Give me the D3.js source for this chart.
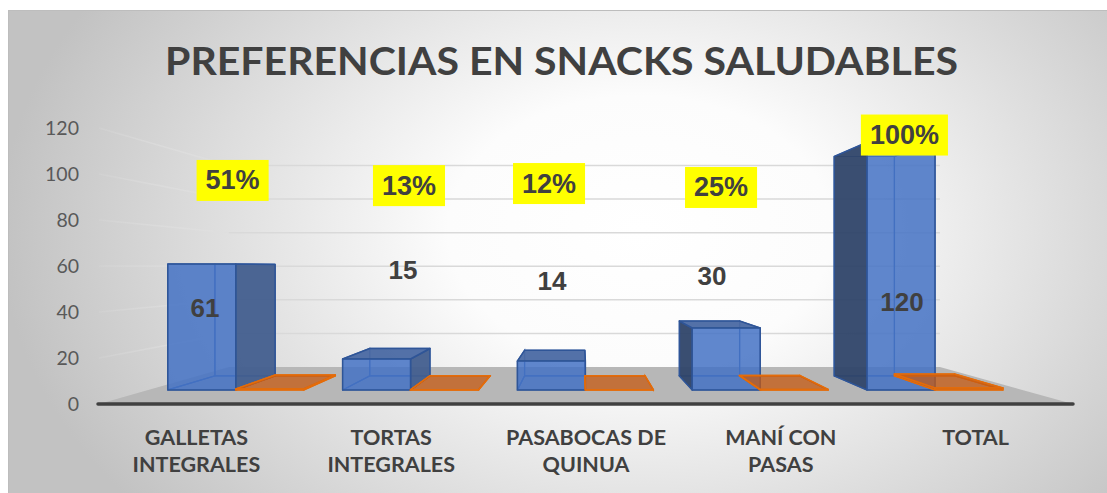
<!DOCTYPE html>
<html>
<head>
<meta charset="utf-8">
<script src="https://cdn.jsdelivr.net/npm/d3@7"></script>
<style>
  body { margin: 0; background: #fff; }
  svg { display: block; }
</style>
</head>
<body>
<div class="chart"></div>
<script>
const width = 1107;
const height = 493;

// data
const categories = ["GALLETAS INTEGRALES", "TORTAS INTEGRALES", "PASABOCAS DE QUINUA", "MANÍ CON PASAS", "TOTAL"];
const categoryLines = [["GALLETAS", "INTEGRALES"], ["TORTAS", "INTEGRALES"], ["PASABOCAS DE", "QUINUA"], ["MANÍ CON", "PASAS"], ["TOTAL"]];
const counts = [61, 15, 14, 30, 120];
const shares = [0.51, 0.13, 0.12, 0.25, 1.00];
const yTicks = [0, 20, 40, 60, 80, 100, 120];
const title = "PREFERENCIAS EN SNACKS SALUDABLES";

// perspective : vanishing point and how much the back shrinks
const VX = 580, VY = 267, K = 0.27;
const T0 = 0.38, T1 = 0.76; // depth of the bar row (0 = front, 1 = back wall)

let svg = d3.select(".chart").append("svg")
	.attr("width", width)
	.attr("height", height);

let x = d3.scaleBand()
	.domain(categories)
	.range([99, 1073]);
let xs = d3.scaleBand()
	.domain(["n", "pct"])
	.range([0, x.bandwidth()])
	.paddingOuter(0.286);
let y = d3.scaleLinear()
	.domain([0, 120])
	.range([404, 128]);

// project a point of the front plane (x0, value) pushed back by depth t
function P(x0, v, t) {
	let s = 1 - K * t;
	return [VX + (x0 - VX) * s, VY + (y(v) - VY) * s];
}
let line = d3.line();
function poly(pts) { return line(pts) + "Z"; }

let x_left = x.range()[0], x_right = x.range()[1];

// background
let defs = svg.append("defs");
let bg = defs.append("radialGradient")
	.attr("id", "bg")
	.attr("gradientUnits", "userSpaceOnUse")
	.attr("cx", 640).attr("cy", 230).attr("r", 640)
	.attr("gradientTransform", "translate(640,230) scale(1,0.7) translate(-640,-230)");
bg.append("stop").attr("offset", 0).attr("stop-color", "#ffffff");
bg.append("stop").attr("offset", 0.3).attr("stop-color", "#fcfcfc");
bg.append("stop").attr("offset", 1).attr("stop-color", "#c2c2c2");

// side wall gridlines fade out toward the front
let side = defs.append("linearGradient")
	.attr("id", "side")
	.attr("gradientUnits", "userSpaceOnUse")
	.attr("x1", P(x_left, 0, 0)[0]).attr("x2", P(x_left, 0, 1)[0])
	.attr("y1", 0).attr("y2", 0);
side.append("stop").attr("offset", 0).attr("stop-color", "#e2e2e2").attr("stop-opacity", 0.15);
side.append("stop").attr("offset", 1).attr("stop-color", "#dedede").attr("stop-opacity", 0.9);

svg.append("rect")
	.attr("x", 8.5).attr("y", 10.5)
	.attr("width", 1120).attr("height", 500)
	.attr("fill", "url(#bg)")
	.attr("stroke", "#bdbdbd");

// title
svg.append("text")
	.attr("x", 561.5).attr("y", 75)
	.attr("text-anchor", "middle")
	.attr("font-family", "Lato, 'Open Sans', sans-serif")
	.attr("font-weight", "bold")
	.attr("font-size", 39)
	.attr("textLength", 793)
	.attr("lengthAdjust", "spacingAndGlyphs")
	.attr("fill", "#404040")
	.text(title);

// floor
svg.append("path")
	.attr("d", poly([P(x_left, 0, 0), P(x_right, 0, 0), P(x_right, 0, 1), P(x_left, 0, 1)]))
	.attr("fill", "#b7b7b7");

// gridlines : side wall and back wall
svg.append("g").selectAll("path")
	.data(yTicks.filter(d => d > 0))
	.enter().append("path")
	.attr("d", d => line([P(x_left, d, 0), P(x_left, d, 1)]))
	.attr("stroke", "url(#side)")
	.attr("stroke-width", 1.5)
	.attr("fill", "none");
svg.append("g").selectAll("path")
	.data(yTicks.filter(d => d > 0))
	.enter().append("path")
	.attr("d", d => line([P(x_left, d, 1), P(x_right, d, 1)]))
	.attr("stroke", "#d9d9d9")
	.attr("stroke-width", 1.5)
	.attr("fill", "none");

// y axis labels
let yAxis = d3.axisLeft(y).tickValues(yTicks).tickSize(0).tickPadding(20);
let gy = svg.append("g")
	.attr("transform", "translate(" + x_left + ",0)")
	.call(yAxis);
gy.select(".domain").remove();
gy.selectAll("text")
	.attr("font-family", "Lato, 'Open Sans', sans-serif")
	.attr("font-size", 19.5)
	.attr("fill", "#595959");

// 3d boxes
const blue = { front: "#4472c4", frontOp: 0.85, left: "#2f4469", right: "#425e8e", top: "#4a69a3",
	stroke: "#2f5597", inner: "#3a63ae", op: 0.95 };
const orange = { front: "#c55a11", frontOp: 0.75, left: "#c55a11", right: "#c55a11", top: "#c55a11",
	stroke: "#e46c0a", inner: "#e46c0a", op: 0.75 };

function box(g, a, b, v, pal) {
	let f = {
		back: [P(a, 0, T1), P(b, 0, T1), P(b, v, T1), P(a, v, T1)],
		bottom: [P(a, 0, T0), P(b, 0, T0), P(b, 0, T1), P(a, 0, T1)],
		left: [P(a, 0, T0), P(a, 0, T1), P(a, v, T1), P(a, v, T0)],
		right: [P(b, 0, T0), P(b, 0, T1), P(b, v, T1), P(b, v, T0)],
		top: [P(a, v, T0), P(b, v, T0), P(b, v, T1), P(a, v, T1)],
		front: [P(a, 0, T0), P(b, 0, T0), P(b, v, T0), P(a, v, T0)]
	};
	let leftShows = a > VX, rightShows = b < VX, topShows = y(v) > VY;
	let hidden = ["back", "bottom"];
	if (!leftShows) hidden.push("left");
	if (!rightShows) hidden.push("right");
	if (!topShows) hidden.push("top");
	hidden.forEach(k => {
		g.append("path").attr("d", poly(f[k]))
			.attr("fill", "none")
			.attr("stroke", pal.inner)
			.attr("stroke-width", 1.2);
	});
	let shown = [];
	if (leftShows) shown.push(["left", pal.left]);
	if (rightShows) shown.push(["right", pal.right]);
	if (topShows) shown.push(["top", pal.top]);
	shown.forEach(k => {
		g.append("path").attr("d", poly(f[k[0]]))
			.attr("fill", k[1])
			.attr("fill-opacity", pal.op)
			.attr("stroke", pal.stroke)
			.attr("stroke-width", 1.5)
			.attr("stroke-linejoin", "round");
	});
	g.append("path").attr("d", poly(f.front))
		.attr("fill", pal.front)
		.attr("fill-opacity", pal.frontOp)
		.attr("stroke", pal.stroke)
		.attr("stroke-width", 1.5)
		.attr("stroke-linejoin", "round");
}

let bars = svg.append("g");
categories.forEach(function(c, i) {
	let a = x(c) + xs("n");
	box(bars.append("g"), a, a + xs.bandwidth(), counts[i], blue);
	let a2 = x(c) + xs("pct");
	box(bars.append("g"), a2, a2 + xs.bandwidth(), shares[i], orange);
});

// category axis
svg.append("path")
	.attr("d", line([P(x_left - 1, 0, 0), P(x_right, 0, 0)]))
	.attr("stroke", "#404040")
	.attr("stroke-width", 3.5)
	.attr("stroke-linecap", "round");

let xAxis = d3.axisBottom(x).tickSize(0).tickFormat("");
let gx = svg.append("g")
	.attr("transform", "translate(0," + y(0) + ")")
	.call(xAxis);
gx.select(".domain").remove();
gx.selectAll(".tick").each(function(d, i) {
	let t = d3.select(this).append("text")
		.attr("text-anchor", "middle")
		.attr("font-family", "Lato, 'Open Sans', sans-serif")
		.attr("font-weight", "bold")
		.attr("font-size", 21.5)
		.attr("fill", "#404040");
	categoryLines[i].forEach(function(l, j) {
		t.append("tspan").attr("x", 0).attr("y", 41 + j * 26.7).text(l);
	});
});

// data labels, placed by hand in the original : [offset in bands, height in value units]
const valueLabelSpot = [[-0.176, 39.7], [-0.043, 58.1], [-0.191, 52.8], [-0.276, 55.2], [-0.189, 42.6]];
const pctLabelSpot = [[-0.018, 101.5], [-0.009, 99], [-0.208, 100], [-0.224, 98.1], [-0.175, 123.5]];
let step = x.step();
let pct = d3.format(".0%");

let labels = svg.append("g")
	.attr("font-family", "'Liberation Sans', Arial, sans-serif")
	.attr("font-weight", "bold")
	.attr("fill", "#404040");

categories.forEach(function(c, i) {
	let cx = x(c) + x.bandwidth() / 2;
	let p = P(cx + valueLabelSpot[i][0] * step, valueLabelSpot[i][1], T0);
	labels.append("text")
		.attr("x", p[0]).attr("y", p[1])
		.attr("text-anchor", "middle")
		.attr("dominant-baseline", "central")
		.attr("font-size", 26)
		.text(counts[i]);

	let q = P(cx + pctLabelSpot[i][0] * step, pctLabelSpot[i][1], T0);
	let r = labels.append("rect").attr("fill", "#ffff00");
	let t = labels.append("text")
		.attr("x", q[0]).attr("y", q[1])
		.attr("text-anchor", "middle")
		.attr("dominant-baseline", "central")
		.attr("font-size", 27)
		.text(pct(shares[i]));
	let w = t.node().getComputedTextLength() + 18;
	r.attr("x", q[0] - w / 2).attr("y", q[1] - 20.5)
		.attr("width", w).attr("height", 41);
});
</script>
</body>
</html>
